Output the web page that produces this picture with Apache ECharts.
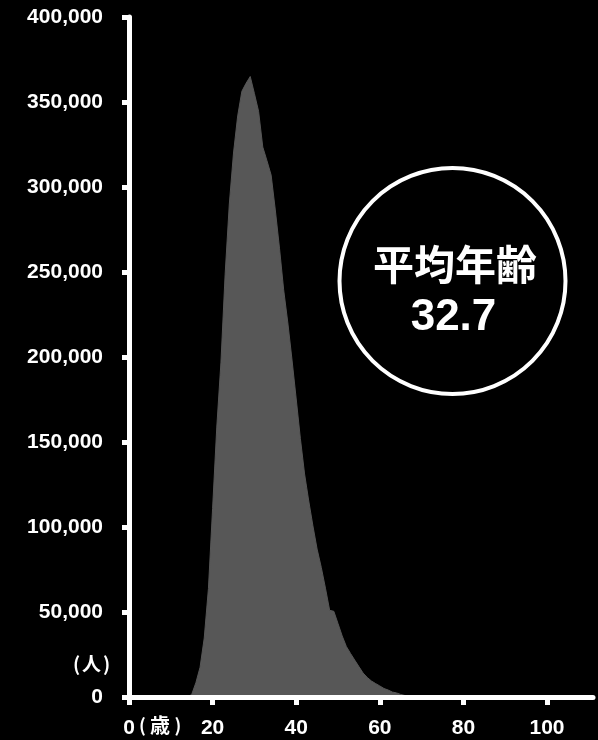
<!DOCTYPE html>
<html>
<head>
<meta charset="utf-8">
<script src="https://cdn.jsdelivr.net/npm/echarts@6/dist/echarts.min.js"></script>
<style>
  html, body { margin: 0; padding: 0; background: #000; }
  #chart { width: 598px; height: 740px; }
</style>
</head>
<body>
<div id="chart"></div>
<script>
// Age (years)
var ages = [14, 15, 16, 17, 18, 19, 20, 21, 22, 23, 24, 25, 26, 27, 28, 29, 30,
  31, 32, 33, 34, 35, 36, 37, 38, 39, 40, 41, 42, 43, 44, 45, 46, 47, 48, 49, 50,
  51, 52, 53, 54, 55, 56, 57, 58, 59, 60, 61, 62, 63, 64, 65, 66, 67, 68, 69, 70, 71, 72];
// Number of people at each age
var population = [0, 1500, 8400, 17500, 34700, 63800, 111000, 158800, 197000, 248800, 290000,
  320000, 341800, 356300, 361000, 365000, 355000, 344500, 323500, 315500, 307000,
  286500, 264000, 239500, 220000, 198200, 175300, 152000, 131200, 115300, 100600,
  87000, 76200, 64000, 51000, 50400, 43200, 35900, 29700, 25600, 21700,
  17900, 14100, 11500, 9400, 7900, 6500, 5000, 4100, 2900, 2400,
  1500, 900, 500, 300, 150, 100, 50, 0];
var xTicks = [0, 20, 40, 60, 80, 100];
var yTickStep = 50000;
var yMax = 400000;
var xMax = 111;
var averageLabel = '平均年齢';
var averageValue = '32.7';
var yUnit = '人';
var xUnit = '歳';

var numFont = '"Liberation Sans", Arial, sans-serif';
var cjkFont = '"Noto Sans CJK JP", sans-serif';

function fmt(v) {
  return String(v).replace(/\B(?=(\d{3})+(?!\d))/g, ',');
}

var seriesData = ages.map(function (a, i) { return [a, population[i]]; });

var chart = echarts.init(document.getElementById('chart'));
chart.setOption({
  backgroundColor: '#000',
  animation: false,
  grid: { left: 129, right: 5, top: 17, bottom: 43, containLabel: false },
  xAxis: {
    type: 'value',
    min: 0,
    max: xMax,
    interval: 20,
    z: 10,
    splitLine: { show: false },
    axisLine: { show: true, lineStyle: { color: '#fff', width: 5 } },
    axisTick: { show: true, length: 8, lineStyle: { color: '#fff', width: 5 }, customValues: xTicks },
    axisLabel: {
      color: '#fff', fontSize: 21, fontWeight: 'bold', fontFamily: numFont,
      margin: 21, customValues: xTicks
    }
  },
  yAxis: {
    type: 'value',
    min: 0,
    max: yMax,
    interval: yTickStep,
    z: 10,
    splitLine: { show: false },
    axisLine: { show: true, lineStyle: { color: '#fff', width: 5 } },
    axisTick: { show: true, length: 7, lineStyle: { color: '#fff', width: 5 } },
    axisLabel: {
      color: '#fff', fontSize: 21, fontWeight: 'bold', fontFamily: numFont,
      margin: 26, formatter: fmt
    }
  },
  series: [{
    type: 'line',
    data: seriesData,
    showSymbol: false,
    smooth: false,
    z: 2,
    lineStyle: { width: 1, color: '#575757' },
    areaStyle: { color: '#575757', opacity: 1 }
  }],
  graphic: [
    { type: 'circle', shape: { cx: 452.5, cy: 281, r: 113 },
      style: { fill: 'none', stroke: '#fff', lineWidth: 4 } },
    { type: 'text', x: 455, y: 264,
      style: { text: averageLabel, fill: '#fff', fontSize: 41, fontWeight: 'bold', fontFamily: cjkFont,
        align: 'center', verticalAlign: 'middle' } },
    { type: 'text', x: 453.5, y: 318,
      style: { text: averageValue, fill: '#fff', fontSize: 44, fontWeight: 'bold', fontFamily: numFont,
        align: 'center', verticalAlign: 'middle' } },
    { type: 'text', x: 76.5, y: 664,
      style: { text: '(', fill: '#fff', fontSize: 19, fontWeight: 'bold', fontFamily: cjkFont, align: 'center', verticalAlign: 'middle' } },
    { type: 'text', x: 91.5, y: 664,
      style: { text: yUnit, fill: '#fff', fontSize: 19, fontWeight: 'bold', fontFamily: cjkFont, align: 'center', verticalAlign: 'middle' } },
    { type: 'text', x: 106.5, y: 664,
      style: { text: ')', fill: '#fff', fontSize: 19, fontWeight: 'bold', fontFamily: cjkFont, align: 'center', verticalAlign: 'middle' } },
    { type: 'text', x: 142.5, y: 725.5,
      style: { text: '(', fill: '#fff', fontSize: 18, fontWeight: 'bold', fontFamily: cjkFont, align: 'center', verticalAlign: 'middle' } },
    { type: 'text', x: 160, y: 725.5,
      style: { text: xUnit, fill: '#fff', fontSize: 20, fontWeight: 'bold', fontFamily: cjkFont, align: 'center', verticalAlign: 'middle' } },
    { type: 'text', x: 178, y: 725.5,
      style: { text: ')', fill: '#fff', fontSize: 18, fontWeight: 'bold', fontFamily: cjkFont, align: 'center', verticalAlign: 'middle' } }
  ]
});
</script>
</body>
</html>
